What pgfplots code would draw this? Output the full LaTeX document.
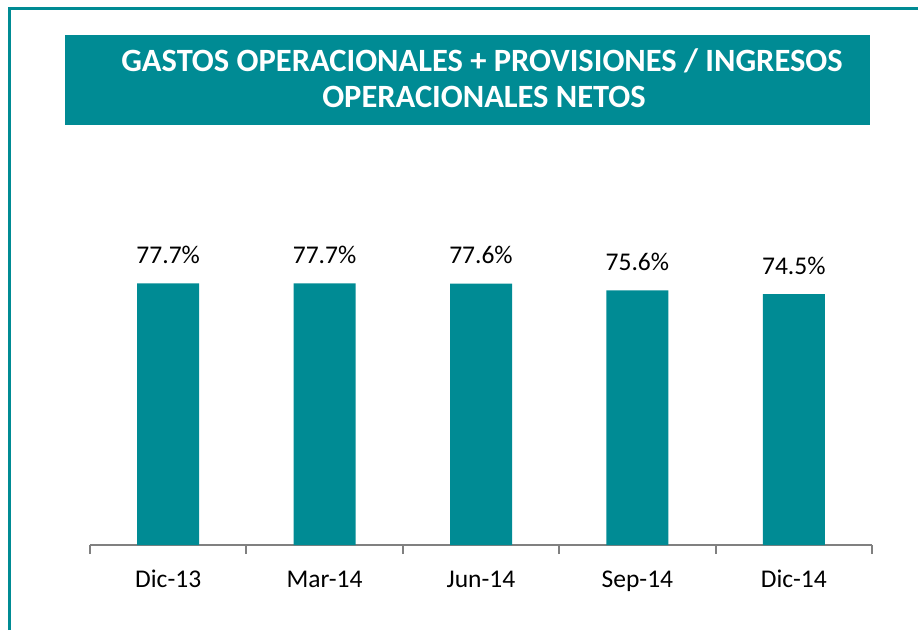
\documentclass[border=0pt]{standalone}
\usepackage{pgfplots}
\pgfplotsset{compat=1.18}
\usepackage{fontspec}
\setmainfont{Carlito}
\definecolor{tealc}{RGB}{0,139,148}
\definecolor{axgray}{RGB}{128,128,128}
\begin{document}
\begin{tikzpicture}[x=1pt,y=1pt]
\useasboundingbox (0,0) rectangle (918,630);
\draw[tealc, line width=3pt] (9.5,0) -- (9.5,621.5) -- (918,621.5);
\fill[tealc] (65,505) rectangle (870,595);
\node[text=white, font=\bfseries\fontsize{32.5}{36}\selectfont, anchor=base] at (482,558) {GASTOS OPERACIONALES + PROVISIONES / INGRESOS};
\node[text=white, font=\bfseries\fontsize{32.5}{36}\selectfont, anchor=base] at (484,522) {OPERACIONALES NETOS};
\begin{axis}[
  at={(90pt,85pt)}, anchor=south west,
  scale only axis, width=782pt, height=404pt,
  xmin=-0.5, xmax=4.5, ymin=0, ymax=120,
  axis x line=bottom, axis y line=none,
  x axis line style={-, draw=axgray, line width=2pt},
  xtick={0,1,2,3,4},
  xticklabels={Dic-13,Mar-14,Jun-14,Sep-14,Dic-14},
  minor xtick={-0.5,0.5,1.5,2.5,3.5,4.5},
  major tick length=0pt, minor tick length=9pt,
  tick align=outside,
  minor tick style={draw=axgray, line width=2pt},
  major tick style={draw=none},
  xticklabel style={font=\fontsize{25.5}{30}\selectfont, anchor=base, yshift=-42pt},
  /pgf/number format/assume math mode=true,
  ybar, bar width=62pt,
  clip=false,
  nodes near coords={\pgfmathprintnumber[fixed,precision=1,fixed zerofill,assume math mode=true]{\pgfplotspointmeta}\%},
  nodes near coords style={font=\fontsize{25.5}{30}\selectfont, anchor=base, yshift=20pt},
]
\addplot[fill=tealc, draw=none] coordinates {(0,77.7) (1,77.7) (2,77.6) (3,75.6) (4,74.5)};
\end{axis}
\end{tikzpicture}
\end{document}
